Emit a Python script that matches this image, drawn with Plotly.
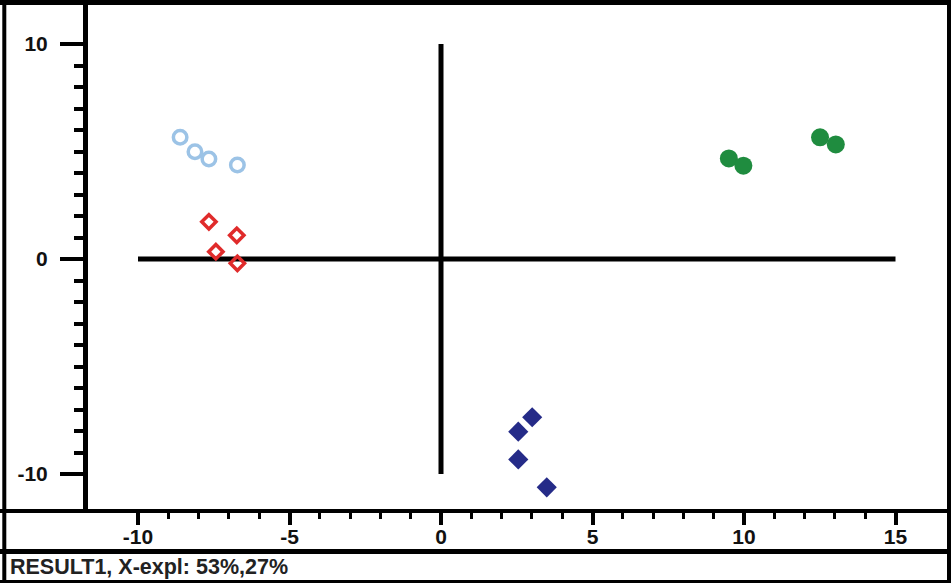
import plotly.graph_objects as go

# Score values for the four sample groups (PC1, PC2)
group_a_x = [-8.61, -8.12, -7.66, -6.72]
group_a_y = [5.66, 4.99, 4.65, 4.37]

group_b_x = [-7.66, -6.74, -7.43, -6.72]
group_b_y = [1.73, 1.10, 0.34, -0.20]

group_c_x = [3.01, 2.55, 2.55, 3.49]
group_c_y = [-7.36, -8.03, -9.32, -10.62]

group_d_x = [9.50, 9.98, 12.51, 13.03]
group_d_y = [4.68, 4.34, 5.66, 5.33]

# Tick labels and minor tick positions
x_major = [-10, -5, 0, 5, 10, 15]
x_minor = [v for v in range(-10, 16) if v % 5 != 0]
y_major = [-10, 0, 10]
y_minor = [v for v in range(-10, 11) if v % 10 != 0]

status_text = "RESULT1, X-expl: 53%,27%"

W, H = 951, 583


def px(x):
    return x / W


def py(y):
    return 1 - y / H


fig = go.Figure()

fig.add_trace(go.Scatter(
    x=group_a_x, y=group_a_y, mode="markers",
    marker=dict(symbol="circle-open", size=13.5, color="#9cc3e6",
                line=dict(width=3.5, color="#9cc3e6")),
))
fig.add_trace(go.Scatter(
    x=group_b_x, y=group_b_y, mode="markers",
    marker=dict(symbol="diamond-open", size=11, color="#e02b2b",
                line=dict(width=3.5, color="#e02b2b")),
))
fig.add_trace(go.Scatter(
    x=group_c_x, y=group_c_y, mode="markers",
    marker=dict(symbol="diamond", size=15.5, color="#252b88",
                line=dict(width=0)),
))
fig.add_trace(go.Scatter(
    x=group_d_x, y=group_d_y, mode="markers",
    marker=dict(symbol="circle", size=18, color="#1f8c3f",
                line=dict(width=0)),
))

shapes = []
# crosshair through the origin
shapes.append(dict(type="line", xref="x", yref="y", x0=-10, x1=15, y0=0, y1=0,
                   line=dict(color="black", width=5), layer="below"))
shapes.append(dict(type="line", xref="x", yref="y", x0=0, x1=0, y0=-10, y1=10,
                   line=dict(color="black", width=5), layer="below"))


def hline(y, w, x0=0, x1=W):
    shapes.append(dict(type="line", xref="paper", yref="paper",
                       x0=px(x0), x1=px(x1), y0=py(y), y1=py(y),
                       line=dict(color="black", width=w)))


def vline(x, w, y0=0, y1=H):
    shapes.append(dict(type="line", xref="paper", yref="paper",
                       x0=px(x), x1=px(x), y0=py(y0), y1=py(y1),
                       line=dict(color="black", width=w)))


# outer frame
hline(2.5, 5)
hline(581.5, 3)
vline(4.3, 4)
vline(949, 4)
# y axis line and x-axis band
vline(85.5, 5, 0, 511)
hline(511, 4)
hline(551.5, 5)

tick_font = dict(family="Liberation Sans", size=21, color="#111111", weight="bold")

fig.update_layout(
    width=W, height=H,
    margin=dict(l=0, r=0, t=0, b=0),
    paper_bgcolor="white", plot_bgcolor="white",
    showlegend=False,
    shapes=shapes,
    xaxis=dict(
        domain=[px(86), px(946)],
        range=[(86 - 441) / 30.3, (946 - 441) / 30.3],
        showgrid=False, zeroline=False, showline=False,
        tickmode="array", tickvals=x_major, ticktext=[str(v) for v in x_major],
        ticks="outside", ticklen=13, tickwidth=4, tickcolor="black",
        tickfont=tick_font, ticklabelstandoff=-6,
        minor=dict(tickmode="array", tickvals=x_minor, ticks="outside",
                   ticklen=7, tickwidth=3, tickcolor="black", showgrid=False),
        fixedrange=True,
    ),
    yaxis=dict(
        domain=[py(511), py(5)],
        range=[(259 - 511) / 21.5, (259 - 5) / 21.5],
        showgrid=False, zeroline=False, showline=False,
        tickmode="array", tickvals=y_major, ticktext=[str(v) for v in y_major],
        ticks="outside", ticklen=25, tickwidth=4, tickcolor="black",
        tickfont=tick_font, ticklabelstandoff=8,
        minor=dict(tickmode="array", tickvals=y_minor, ticks="outside",
                   ticklen=11, tickwidth=4, tickcolor="black", showgrid=False),
        fixedrange=True,
    ),
    annotations=[dict(
        text=status_text, xref="paper", yref="paper",
        x=px(8), y=py(567), xanchor="left", yanchor="middle",
        showarrow=False,
        font=dict(family="Liberation Sans", size=21.5, color="#222222", weight="bold"),
    )],
)

fig.write_html("out.html")
